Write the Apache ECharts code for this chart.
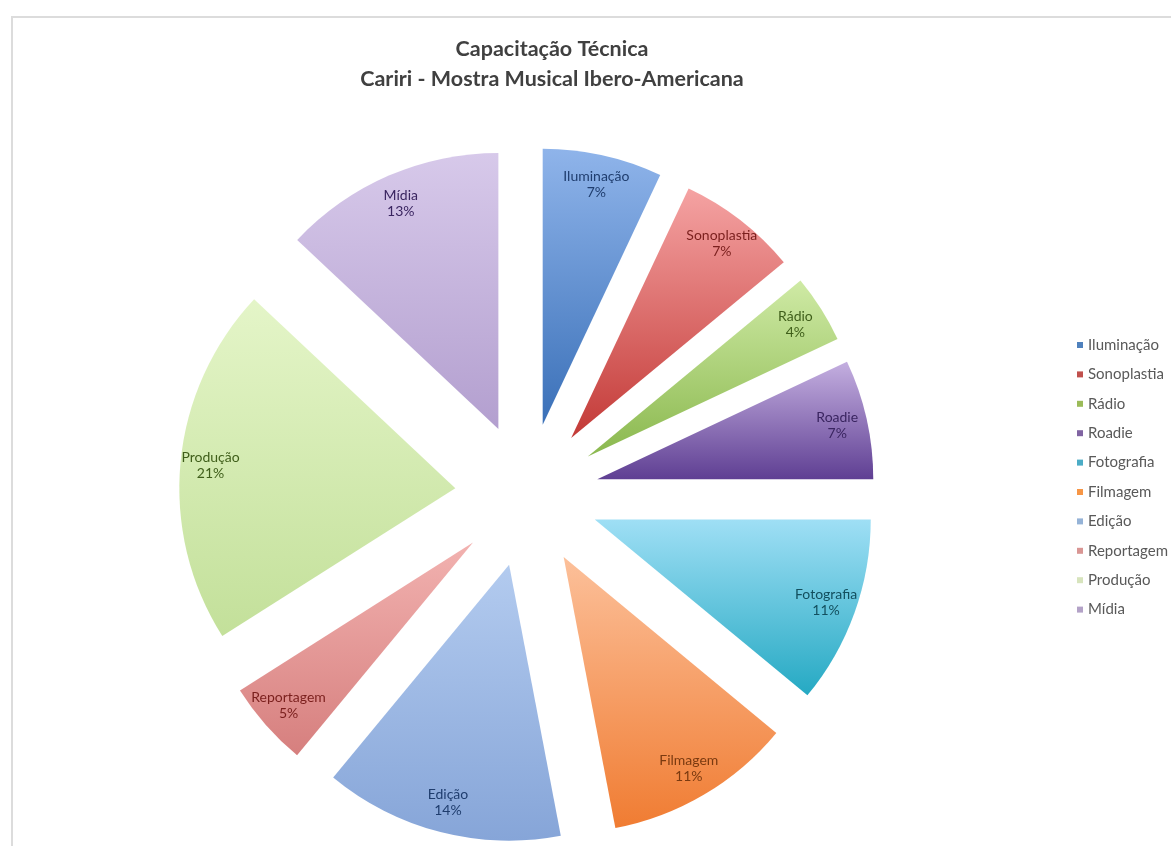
<!DOCTYPE html>
<html>
<head>
<meta charset="utf-8">
<script src="https://cdn.jsdelivr.net/npm/echarts@6/dist/echarts.min.js"></script>
<style>html,body{margin:0;padding:0;background:#fff}#c{width:1171px;height:846px}</style>
</head>
<body>
<div id="c"></div>
<script>
var titleText = 'Capacitação Técnica\nCariri - Mostra Musical Ibero-Americana';
var categories = ['Iluminação','Sonoplastia','Rádio','Roadie','Fotografia','Filmagem','Edição','Reportagem','Produção','Mídia'];
var values = [7, 7, 4, 7, 11, 11, 14, 5, 21, 13];
var topColors = ['#8fb4ea','#f5a3a3','#cfeaa5','#c4afe0','#9fdff5','#fcc09a','#b3cbef','#f2b2b0','#e4f5c8','#d7c9ea'];
var bottomColors = ['#3a70b8','#c33a37','#8ab84e','#5f3f93','#25a9c3','#f07c32','#86a5d8','#d67f7e','#c3e09a','#b39fcf'];
var legendColors = ['#4f81bd','#c0504d','#9bbb59','#8064a2','#4bacc6','#f79646','#95b3d7','#d99694','#d7e4bd','#b3a2c7'];
var labelColors = ['#1f3d6e','#7a1f1d','#3f5e1a','#3a2560','#134f5e','#7a3a10','#1f3d6e','#7a1f1d','#3f5e1a','#3a2560'];

var chart = echarts.init(document.getElementById('c'));
var R = 276, explode = 72, center = [527, 495];

var pieData = categories.map(function (n, i) {
  return {
    name: n, value: values[i], selected: true,
    itemStyle: { color: new echarts.graphic.LinearGradient(0, 0, 0, 1, [
      { offset: 0, color: topColors[i] }, { offset: 1, color: bottomColors[i] }]) }
  };
});
var labelData = categories.map(function (n, i) {
  return { name: n, value: values[i], selected: true, label: { color: labelColors[i] } };
});

chart.setOption({
  animation: false,
  backgroundColor: '#ffffff',
  graphic: [{
    type: 'rect', shape: { x: 12, y: 17, width: 1200, height: 900 },
    style: { fill: 'none', stroke: '#dcdcdc', lineWidth: 2 }, silent: true
  }],
  title: {
    text: titleText, left: 547, top: 29, textAlign: 'center',
    textStyle: { fontFamily: 'Lato', fontWeight: 'bold', fontSize: 21.5, color: '#404040', lineHeight: 30 }
  },
  legend: {
    orient: 'vertical', left: 1072, top: 332, icon: 'rect', itemWidth: 6, itemHeight: 6, itemGap: 13.4,
    selectedMode: false,
    textStyle: { fontFamily: 'Lato', fontSize: 15, color: '#595959', lineHeight: 16 },
    data: categories.map(function (n, i) { return { name: n, itemStyle: { color: legendColors[i] } }; })
  },
  series: [{
    type: 'pie', center: center, radius: [0, R], startAngle: 90, clockwise: true,
    selectedMode: 'multiple', selectedOffset: explode, silent: true,
    label: { show: false }, labelLine: { show: false },
    select: { itemStyle: { borderWidth: 0 } },
    emphasis: { disabled: true },
    data: pieData
  }, {
    type: 'pie', center: center, radius: [R * 0.76, R], startAngle: 90, clockwise: true,
    selectedMode: 'multiple', selectedOffset: explode, silent: true,
    itemStyle: { color: 'rgba(0,0,0,0)' },
    select: { itemStyle: { color: 'rgba(0,0,0,0)', borderWidth: 0 } },
    emphasis: { disabled: true },
    avoidLabelOverlap: false,
    label: { show: true, position: 'inside', fontFamily: 'Lato', fontSize: 14, lineHeight: 16,
      formatter: function (p) { return p.name + '\n' + Math.round(p.percent) + '%'; } },
    labelLine: { show: false },
    data: labelData
  }]
});
</script>
</body>
</html>
